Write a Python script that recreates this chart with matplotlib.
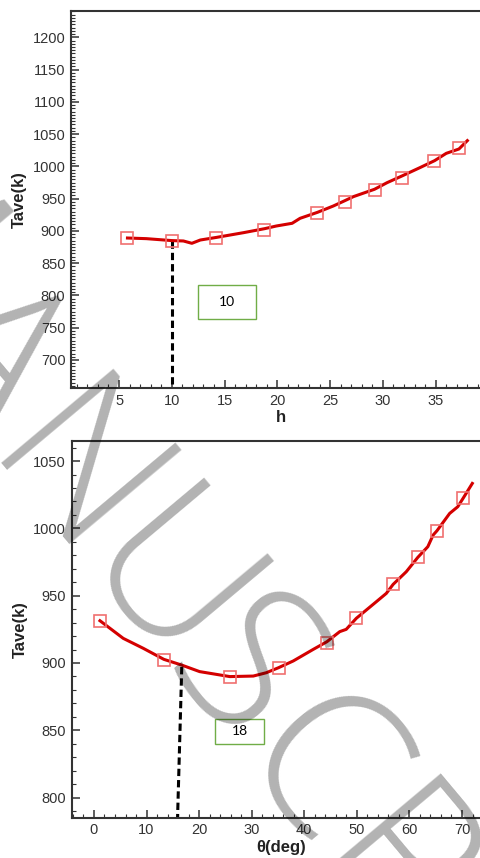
import matplotlib
matplotlib.use("Agg")
import matplotlib.pyplot as plt
from matplotlib.patches import Rectangle
from matplotlib.ticker import MultipleLocator

plt.rcParams['font.family'] = ['Liberation Sans', 'DejaVu Sans']

# top panel: Tave vs h
h_line = [5.8, 7.6, 10.0, 11.1, 11.9, 12.7, 14.25, 16.8, 18.8, 19.9, 21.4, 22.15, 23.8,
          25.3, 26.4, 27.2, 29.2, 30.4, 31.8, 33.5, 34.9, 36.0, 37.2, 38.0]
t_line_h = [889, 888, 885, 884.4, 880.8, 885.9, 890, 897.3, 903.5, 907.6, 911.8, 919.5, 928.8,
            938.6, 946.9, 953.1, 964.5, 974.8, 985.1, 998.0, 1008.9, 1020.2, 1026.9, 1039.9]
h_mark = [5.73, 9.99, 14.16, 18.77, 23.79, 26.44, 29.22, 31.78, 34.87, 37.24]
t_mark_h = [888.5, 884.9, 888.5, 901.4, 927.3, 944.3, 963.4, 982.5, 1008.9, 1029.0]
h_opt_x = [10.0, 10.0]
h_opt_y = [884, 656]
h_label = "10"

# bottom panel: Tave vs theta
th_line = [1.14, 5.57, 9.38, 13.3, 16.66, 20.1, 25.85, 30.3, 32.8, 35.1, 37.9, 41.7, 44.3,
           46.75, 47.98, 49.9, 53.7, 55.6, 56.9, 59.4, 61.6, 63.5, 64.5, 65.25, 67.65, 69.2,
           70.2, 71.96]
t_line_th = [931.4, 918.3, 910.9, 902.7, 898.5, 893.6, 889.9, 890.3, 892.8, 896.5, 901.5,
             910.1, 915.8, 923.3, 925.0, 933.2, 945.5, 951.7, 958.4, 967.8, 978.5, 986.4,
             995.0, 998.3, 1011.1, 1016.1, 1022.3, 1033.4]
th_mark = [1.14, 13.3, 25.85, 35.1, 44.3, 49.9, 56.9, 61.6, 65.25, 70.2]
t_mark_th = [931.4, 902.2, 889.4, 896.0, 914.6, 933.2, 958.4, 979.0, 998.3, 1022.3]
th_opt_x = [16.7, 15.9]
th_opt_y = [897, 785]
th_label = "18"

# watermark letters, baseline centre of each letter in pixels from top-left
wm_letters = ["M", "A", "N", "U", "S", "C", "R"]
wm_x = [-150, -55, 27, 119, 195, 270, 345]
wm_y = [268, 392, 518, 627, 712, 811, 913]

fig = plt.figure(figsize=(4.81, 8.58), dpi=100)

ax1 = fig.add_axes([0.1476, 0.5478, 0.871, 0.4394])
ax2 = fig.add_axes([0.149, 0.047, 0.869, 0.439])

line_c = '#d40000'
mark_c = '#f07070'
tick_c = '#333333'

def style(ax):
    for s in ax.spines.values():
        s.set_linewidth(1.5)
        s.set_color('#333333')
    ax.tick_params(which='both', direction='in', top=False, right=False, colors=tick_c,
                   labelsize=10.5, pad=4)
    ax.tick_params(which='major', length=6, width=1.1)
    ax.tick_params(which='minor', length=3, width=0.8)

# top
ax1.plot(h_line, t_line_h, color=line_c, lw=2.2, zorder=3)
ax1.plot(h_mark, t_mark_h, ls='none', marker='s', ms=9, mfc='none', mec=mark_c, mew=1.2, zorder=4)
ax1.plot(h_opt_x, h_opt_y, color='black', lw=2.2, ls=(0, (2.4, 1.3)), zorder=2)
ax1.set_xlim(0.45, 40.14)
ax1.set_ylim(656.6, 1240.8)
ax1.xaxis.set_minor_locator(MultipleLocator(1))
ax1.yaxis.set_minor_locator(MultipleLocator(5))
ax1.set_xticks([5, 10, 15, 20, 25, 30, 35])
ax1.set_yticks(list(range(700, 1201, 50)))
style(ax1)
ax1.set_xlabel("h", fontsize=12, fontweight='bold', color='#222222', labelpad=2)
ax1.set_ylabel("Tave(k)", fontsize=12, fontweight='bold', color='#222222', labelpad=4)
ax1.add_patch(Rectangle((12.48, 763.6), 5.5, 52.7, fill=True, fc='white', ec='#70ad47', lw=1, zorder=5))
ax1.text(15.23, 790, h_label, ha='center', va='center', fontsize=10, family=['Lato', 'DejaVu Sans'], zorder=6)

# bottom
ax2.plot(th_line, t_line_th, color=line_c, lw=2.2, zorder=3)
ax2.plot(th_mark, t_mark_th, ls='none', marker='s', ms=9, mfc='none', mec=mark_c, mew=1.2, zorder=4)
ax2.plot(th_opt_x, th_opt_y, color='black', lw=2.2, ls=(0, (2.4, 1.3)), zorder=2)
ax2.set_xlim(-4.24, 75.26)
ax2.set_ylim(785.1, 1064.9)
ax2.xaxis.set_major_locator(MultipleLocator(10))
ax2.xaxis.set_minor_locator(MultipleLocator(2))
ax2.yaxis.set_major_locator(MultipleLocator(50))
ax2.yaxis.set_minor_locator(MultipleLocator(10))
style(ax2)
ax2.set_xlabel("θ(deg)", fontsize=12, fontweight='bold', color='#222222', labelpad=2)
ax2.set_ylabel("Tave(k)", fontsize=12, fontweight='bold', color='#222222', labelpad=4)
ax2.add_patch(Rectangle((23.0, 839.9), 9.36, 18.5, fill=True, fc='white', ec='#70ad47', lw=1, zorder=5))
ax2.text(27.68, 849.5, th_label, ha='center', va='center', fontsize=10, family=['Lato', 'DejaVu Sans'], zorder=6)

# watermark
for ch, px, py in zip(wm_letters, wm_x, wm_y):
    fig.text(px / 481, 1 - py / 858, ch, fontsize=147, color='black', alpha=0.3,
             family=['Open Sans', 'Liberation Sans'], fontweight=300,
             rotation=-50, rotation_mode='anchor', ha='center', va='baseline', zorder=10)

fig.savefig("out.png", dpi=100)
